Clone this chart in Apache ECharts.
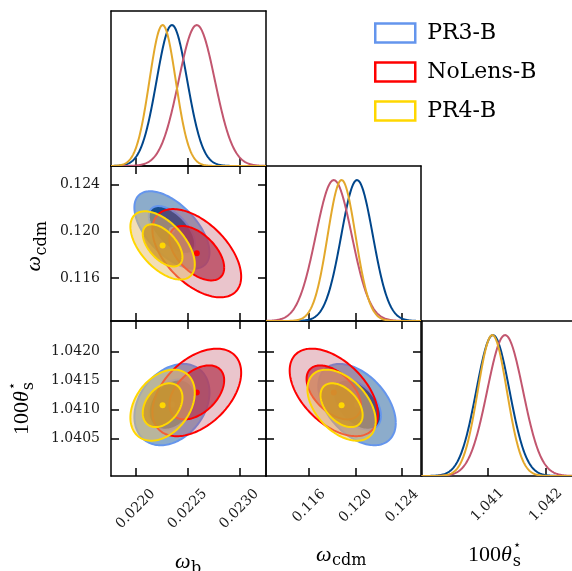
<!DOCTYPE html>
<html><head><meta charset="utf-8">
<script src="https://cdn.jsdelivr.net/npm/echarts@6/dist/echarts.min.js"></script>
<style>html,body{margin:0;padding:0;background:#fff}#c{width:572px;height:571px}</style>
</head><body><div id="c"></div>
<script>
// ---- data ----
const seriesNames = ['PR3-B', 'NoLens-B', 'PR4-B'];
const omegaBMean = [0.02235, 0.02259, 0.02226];
const omegaBSigma = [0.000148, 0.000175, 0.000127];
const omegaCdmMean = [0.12012, 0.11812, 0.11879];
const omegaCdmSigma = [0.00136, 0.00155, 0.00120];
const thetaMean = [1.04109, 1.04130, 1.04108];
const thetaSigma = [0.000286, 0.000308, 0.000250];
const corrBCdm = [-0.58, -0.53, -0.55];
const corrBTheta = [0.30, 0.45, 0.35];
const corrCdmTheta = [-0.45, -0.50, -0.45];
const contourLevels = [0.68, 0.95];
const omegaBTicks = [0.0220, 0.0225, 0.0230];
const omegaCdmTicks = [0.116, 0.120, 0.124];
const thetaTicksY = [1.0405, 1.0410, 1.0415, 1.0420];
const thetaTicksX = [1.041, 1.042];
const omegaBRange = [0.021762, 0.023258];
const omegaCdmRange = [0.11229, 0.12562];
const thetaRange = [1.03986, 1.04253];
const densityRange = [0, 1.1];

// ---- styles ----
const lineColors = ['#6495ED', '#FF0000', '#FFD700'];
const curveColors = ['#00468B', '#C2566F', '#E3A82B'];
const outerFill = ['rgba(0,70,140,0.45)', 'rgba(190,80,100,0.33)', 'rgba(230,190,110,0.5)'];
const innerFill = ['rgba(0,60,130,0.85)', 'rgba(180,60,85,0.75)', 'rgba(205,150,40,0.8)'];

const colLeft = [111, 266, 421.5];
const rowTop = [11, 166, 321];
const cell = 155;

const grids = [], xAxes = [], yAxes = [], series = [];
function addGrid(c, r) {
  grids.push({left: colLeft[c], top: rowTop[r], width: cell, height: cell, containLabel: false, outerBoundsMode: 'none', show: false});
  return grids.length - 1;
}
function addAxis(list, gridIndex, position, range, ticks, labelCfg) {
  list.push({
    type: 'value', gridIndex, position, min: range[0], max: range[1], scale: true,
    axisLine: {show: true, onZero: false, lineStyle: {color: '#000', width: 1.5}},
    axisTick: ticks ? {show: true, inside: true, length: 8, customValues: ticks, lineStyle: {color: '#000', width: 1.5}} : {show: false},
    axisLabel: labelCfg ? Object.assign({show: true, customValues: ticks, color: '#1a1a1a', fontFamily: 'DejaVu Serif', fontSize: 14}, labelCfg) : {show: false},
    splitLine: {show: false}
  });
  return list.length - 1;
}
const fmt = d => (v => v.toFixed(d));
const rotLabel = (d, m) => ({rotate: 45, align: 'center', verticalAlign: 'middle', margin: m, formatter: fmt(d)});
const yLabel = d => ({margin: 11, formatter: fmt(d)});

const R = contourLevels.map(p => Math.sqrt(-2 * Math.log(1 - p)));

function make2D(xi, yi, idx, xm, xs, ym, ys, rho) {
  series.push({
    type: 'custom', name: seriesNames[idx], xAxisIndex: xi, yAxisIndex: yi, silent: true, clip: true,
    encode: {x: 0, y: 1},
    data: [[xm[idx], ym[idx], xs[idx], ys[idx], rho[idx]]],
    renderItem: (params, api) => {
      const mx = api.value(0), my = api.value(1), sx = api.value(2), sy = api.value(3), rr = api.value(4);
      const ring = r => {
        const pts = [];
        for (let k = 0; k <= 160; k++) {
          const t = 2 * Math.PI * k / 160, u = r * Math.cos(t), v = r * Math.sin(t);
          pts.push(api.coord([mx + sx * u, my + sy * (rr * u + Math.sqrt(1 - rr * rr) * v)]));
        }
        return pts;
      };
      const outer = ring(R[1]), inner = ring(R[0]);
      const c = api.coord([mx, my]);
      return {type: 'group', children: [
        {type: 'polygon', shape: {points: outer}, style: {fill: outerFill[idx]}},
        {type: 'polygon', shape: {points: inner}, style: {fill: innerFill[idx]}},
        {type: 'polyline', shape: {points: outer}, style: {fill: null, stroke: lineColors[idx], lineWidth: 2}},
        {type: 'polyline', shape: {points: inner}, style: {fill: null, stroke: lineColors[idx], lineWidth: 2}},
        {type: 'circle', shape: {cx: c[0], cy: c[1], r: 3}, style: {fill: lineColors[idx]}}
      ]};
    }
  });
}
function make1D(xi, yi, idx, mean, sigma, range) {
  series.push({
    type: 'custom', name: seriesNames[idx], xAxisIndex: xi, yAxisIndex: yi, silent: true, clip: true,
    encode: {x: 0, y: 1},
    data: [[mean[idx], 1, sigma[idx]]],
    renderItem: (params, api) => {
      const m = api.value(0), s = api.value(2);
      const pts = [];
      for (let k = 0; k <= 300; k++) {
        const x = range[0] + (range[1] - range[0]) * k / 300, z = (x - m) / s;
        pts.push(api.coord([x, Math.exp(-0.5 * z * z)]));
      }
      return {type: 'polyline', shape: {points: pts}, style: {fill: null, stroke: curveColors[idx], lineWidth: 2}};
    }
  });
}

// g0: 1D omega_b
let g = addGrid(0, 0);
let xb = addAxis(xAxes, g, 'bottom', omegaBRange, omegaBTicks, null);
addAxis(xAxes, g, 'top', omegaBRange, null, null);
let yl = addAxis(yAxes, g, 'left', densityRange, null, null);
addAxis(yAxes, g, 'right', densityRange, null, null);
for (let i = 0; i < 3; i++) make1D(xb, yl, i, omegaBMean, omegaBSigma, omegaBRange);

// g1: omega_b vs omega_cdm
g = addGrid(0, 1);
xb = addAxis(xAxes, g, 'bottom', omegaBRange, omegaBTicks, null);
addAxis(xAxes, g, 'top', omegaBRange, omegaBTicks, null);
yl = addAxis(yAxes, g, 'left', omegaCdmRange, omegaCdmTicks, yLabel(3));
addAxis(yAxes, g, 'right', omegaCdmRange, omegaCdmTicks, null);
for (let i = 0; i < 3; i++) make2D(xb, yl, i, omegaBMean, omegaBSigma, omegaCdmMean, omegaCdmSigma, corrBCdm);

// g2: omega_b vs theta
g = addGrid(0, 2);
xb = addAxis(xAxes, g, 'bottom', omegaBRange, omegaBTicks, rotLabel(4, 33));
addAxis(xAxes, g, 'top', omegaBRange, omegaBTicks, null);
yl = addAxis(yAxes, g, 'left', thetaRange, thetaTicksY, yLabel(4));
addAxis(yAxes, g, 'right', thetaRange, thetaTicksY, null);
for (let i = 0; i < 3; i++) make2D(xb, yl, i, omegaBMean, omegaBSigma, thetaMean, thetaSigma, corrBTheta);

// g3: 1D omega_cdm
g = addGrid(1, 1);
xb = addAxis(xAxes, g, 'bottom', omegaCdmRange, omegaCdmTicks, null);
addAxis(xAxes, g, 'top', omegaCdmRange, null, null);
yl = addAxis(yAxes, g, 'left', densityRange, null, null);
addAxis(yAxes, g, 'right', densityRange, null, null);
for (let i = 0; i < 3; i++) make1D(xb, yl, i, omegaCdmMean, omegaCdmSigma, omegaCdmRange);

// g4: omega_cdm vs theta
g = addGrid(1, 2);
xb = addAxis(xAxes, g, 'bottom', omegaCdmRange, omegaCdmTicks, rotLabel(3, 30));
addAxis(xAxes, g, 'top', omegaCdmRange, omegaCdmTicks, null);
yl = addAxis(yAxes, g, 'left', thetaRange, thetaTicksY, null);
addAxis(yAxes, g, 'right', thetaRange, thetaTicksY, null);
for (let i = 0; i < 3; i++) make2D(xb, yl, i, omegaCdmMean, omegaCdmSigma, thetaMean, thetaSigma, corrCdmTheta);

// g5: 1D theta
g = addGrid(2, 2);
xb = addAxis(xAxes, g, 'bottom', thetaRange, thetaTicksX, rotLabel(3, 29));
addAxis(xAxes, g, 'top', thetaRange, null, null);
yl = addAxis(yAxes, g, 'left', densityRange, null, null);
addAxis(yAxes, g, 'right', densityRange, null, null);
for (let i = 0; i < 3; i++) make1D(xb, yl, i, thetaMean, thetaSigma, thetaRange);

// ---- axis titles as text ----
const mctx = document.createElement('canvas').getContext('2d');
const tw = (t, f) => { mctx.font = f; return mctx.measureText(t).width; };
const MAIN = '22px "Liberation Serif"', MAINI = 'italic 22px "Liberation Serif"';
const SUB = '16px "DejaVu Serif"', SUP = '13px "DejaVu Serif"';
function piece(text, font, size, x, base) {
  return {type: 'text', x: x, y: base - 0.3 * size, silent: true,
    style: {text: text, font: font, fill: '#000', align: 'left', verticalAlign: 'middle'}};
}
function omegaTitle(ox, oy, rot, sub, subDrop) {
  const w = tw('ω', MAINI);
  return {type: 'group', x: ox, y: oy, rotation: rot, children: [
    piece('ω', MAINI, 22, 0, 0), piece(sub, SUB, 16, w + 0.5, subDrop)]};
}
function thetaTitle(ox, oy, rot) {
  const w1 = tw('100', MAIN), w2 = tw('θ', MAINI);
  return {type: 'group', x: ox, y: oy, rotation: rot, children: [
    piece('100', MAIN, 22, 0, 0), piece('θ', MAINI, 22, w1, 0),
    piece('⋆', SUP, 13, w1 + w2 + 1, -12), piece('s', SUB, 16, w1 + w2 + 1, 5)]};
}
const graphics = [
  omegaTitle(175, 569, 0, 'b', 5),
  omegaTitle(316, 562, 0, 'cdm', 4),
  thetaTitle(468, 561.5, 0),
  omegaTitle(41, 271.5, Math.PI / 2, 'cdm', 5.5),
  thetaTitle(28.5, 435, Math.PI / 2)
];

const chart = echarts.init(document.getElementById('c'), null, {renderer: 'canvas'});
chart.setOption({
  animation: false,
  backgroundColor: '#fff',
  grid: grids, xAxis: xAxes, yAxis: yAxes, series: series,
  legend: {
    orient: 'vertical', left: 374, top: 22, padding: 0, itemWidth: 40, itemHeight: 19, itemGap: 17,
    icon: 'rect', selectedMode: false,
    textStyle: {fontFamily: 'DejaVu Serif', fontSize: 22, lineHeight: 19, color: '#000', padding: [0, 0, 0, 7]},
    data: seriesNames.map((n, i) => ({name: n, icon: 'rect', itemStyle: {color: '#fff', borderColor: lineColors[i], borderWidth: 2.5}}))
  },
  graphic: graphics
});
</script>
</body></html>
